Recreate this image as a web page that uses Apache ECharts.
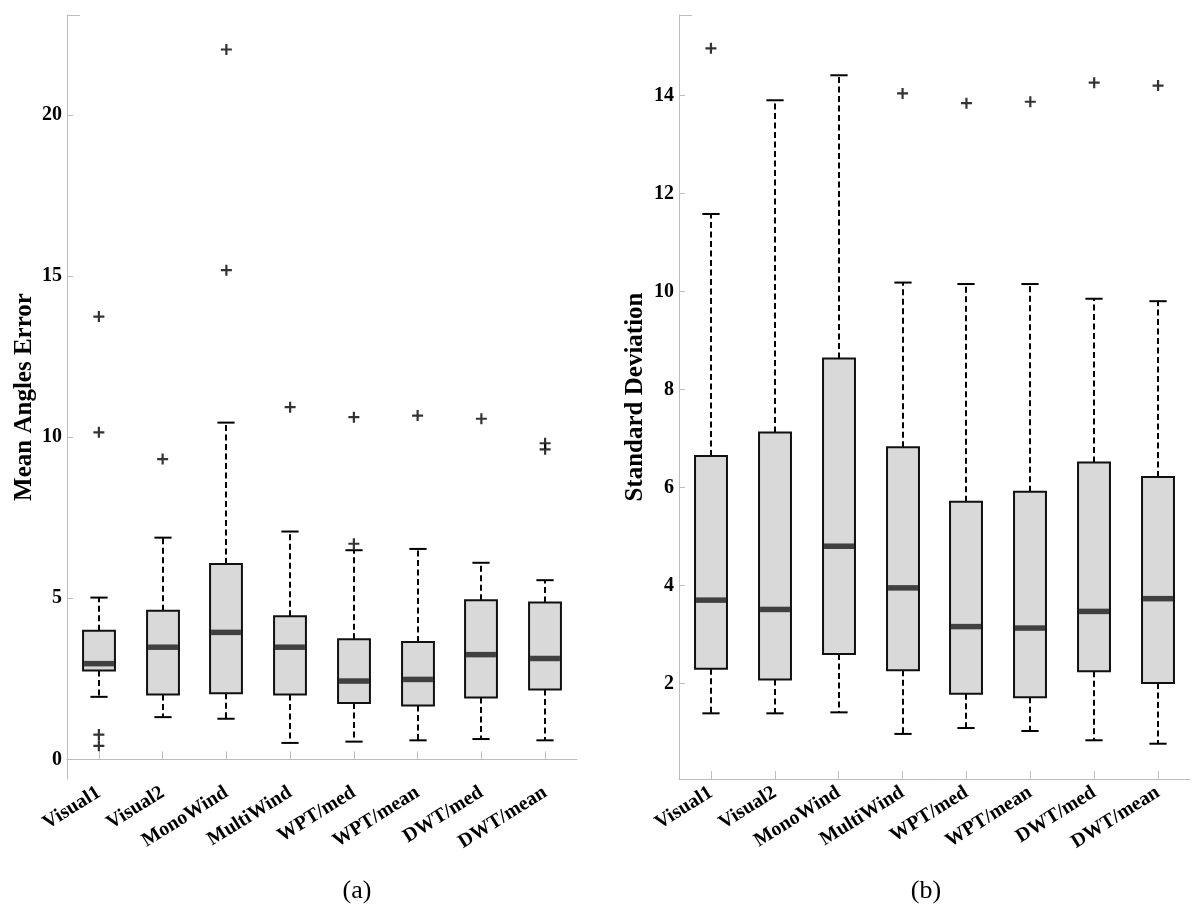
<!DOCTYPE html>
<html>
<head>
<meta charset="utf-8">
<script src="https://cdn.jsdelivr.net/npm/echarts@6/dist/echarts.min.js"></script>
<style>
html,body{margin:0;padding:0;background:#fff;}
#chart{width:1200px;height:910px;}
</style>
</head>
<body>
<div id="chart"></div>
<script>
// ---------- data ----------
const categories = ['Visual1','Visual2','MonoWind','MultiWind','WPT/med','WPT/mean','DWT/med','DWT/mean'];

// (a) Mean Angles Error
const minA = [1.94, 1.31, 1.26, 0.51, 0.55, 0.59, 0.63, 0.59];
const q1A  = [2.76, 2.01, 2.05, 2.01, 1.75, 1.67, 1.92, 2.17];
const medA = [2.97, 3.48, 3.94, 3.48, 2.43, 2.48, 3.25, 3.13];
const q3A  = [3.99, 4.61, 6.06, 4.44, 3.73, 3.64, 4.94, 4.87];
const maxA = [5.02, 6.88, 10.45, 7.07, 6.49, 6.53, 6.10, 5.56];
const outliersA = [
  ['Visual1', 13.74], ['Visual1', 10.15], ['Visual1', 0.77], ['Visual1', 0.42],
  ['Visual2', 9.32],
  ['MonoWind', 22.03], ['MonoWind', 15.18],
  ['MultiWind', 10.93],
  ['WPT/med', 10.62], ['WPT/med', 6.69],
  ['WPT/mean', 10.67],
  ['DWT/med', 10.57],
  ['DWT/mean', 9.81], ['DWT/mean', 9.62]
];
const yTicksA = [0, 5, 10, 15, 20];

// (b) Standard Deviation
const minB = [1.39, 1.39, 1.41, 0.97, 1.09, 1.03, 0.84, 0.77];
const q1B  = [2.30, 2.08, 2.60, 2.27, 1.79, 1.72, 2.25, 2.01];
const medB = [3.70, 3.51, 4.80, 3.95, 3.16, 3.13, 3.47, 3.73];
const q3B  = [6.64, 7.12, 8.63, 6.82, 5.71, 5.91, 6.51, 6.21];
const maxB = [11.58, 13.90, 14.41, 10.18, 10.15, 10.15, 9.85, 9.80];
const outliersB = [
  ['Visual1', 14.96],
  ['MultiWind', 14.04],
  ['WPT/med', 13.84],
  ['WPT/mean', 13.87],
  ['DWT/med', 14.26],
  ['DWT/mean', 14.20]
];
const yTicksB = [2, 4, 6, 8, 10, 12, 14];

// ---------- chart ----------
const FONT = "'Liberation Serif','Times New Roman',serif";
const AXIS_GRAY = '#bdbdbd';

function boxData(mn, q1, md, q3, mx) {
  return categories.map((c, i) => [i, mn[i], q1[i], md[i], q3[i], mx[i]]);
}

function renderBox(params, api) {
  const i = api.value(0);
  const pMin = api.coord([i, api.value(1)]);
  const pQ1 = api.coord([i, api.value(2)]);
  const pMed = api.coord([i, api.value(3)]);
  const pQ3 = api.coord([i, api.value(4)]);
  const pMax = api.coord([i, api.value(5)]);
  const band = api.size([1, 0])[0];
  const bw = band * 0.5;
  const cw = band * 0.27;
  const x = Math.round(pMed[0]);
  const dash = {stroke: '#000', lineWidth: 2, lineDash: [6, 3.5], fill: null};
  const solid = {stroke: '#000', lineWidth: 2, fill: null};
  return {
    type: 'group',
    children: [
      {type: 'line', shape: {x1: x, y1: pQ3[1], x2: x, y2: pMax[1]}, style: dash},
      {type: 'line', shape: {x1: x, y1: pQ1[1], x2: x, y2: pMin[1]}, style: dash},
      {type: 'line', shape: {x1: x - cw / 2, y1: pMax[1], x2: x + cw / 2, y2: pMax[1]}, style: solid},
      {type: 'line', shape: {x1: x - cw / 2, y1: pMin[1], x2: x + cw / 2, y2: pMin[1]}, style: solid},
      {type: 'rect', shape: {x: x - bw / 2, y: pQ3[1], width: bw, height: pQ1[1] - pQ3[1]},
        style: {fill: '#d9d9d9', stroke: '#111', lineWidth: 2}},
      {type: 'line', shape: {x1: x - bw / 2 + 1, y1: pMed[1], x2: x + bw / 2 - 1, y2: pMed[1]},
        style: {stroke: '#404040', lineWidth: 5.5}}
    ]
  };
}

const PLUS = 'path://M4,0H6V4H10V6H6V10H4V6H0V4H4Z';

function xAxisCfg(gi) {
  return {
    type: 'category', gridIndex: gi, data: categories, boundaryGap: true,
    axisLine: {show: true, lineStyle: {color: AXIS_GRAY, width: 1}},
    axisTick: {show: true, inside: true, alignWithLabel: true, length: 8, lineStyle: {color: AXIS_GRAY}},
    axisLabel: {interval: 0, rotate: 32, margin: 12, color: '#000', fontFamily: FONT,
      fontWeight: 'bold', fontSize: 20},
    splitLine: {show: false}
  };
}

function yAxisCfg(gi, mn, mx, ticks, name, gap) {
  return {
    type: 'value', gridIndex: gi, min: mn, max: mx,
    name: name, nameLocation: 'middle', nameGap: gap, nameRotate: 90,
    nameTextStyle: {fontFamily: FONT, fontWeight: 'bold', fontSize: 25, color: '#000'},
    axisLine: {show: true, lineStyle: {color: AXIS_GRAY, width: 1}},
    axisTick: {show: true, inside: true, length: 6, customValues: ticks, lineStyle: {color: AXIS_GRAY}},
    axisLabel: {customValues: ticks, margin: 5, color: '#000', fontFamily: FONT,
      fontWeight: 'bold', fontSize: 20},
    splitLine: {show: false}
  };
}

const chart = echarts.init(document.getElementById('chart'), null, {renderer: 'canvas'});
chart.setOption({
  animation: false,
  backgroundColor: '#fff',
  grid: [
    {left: 67, top: 15, width: 510, height: 764, containLabel: false, outerBoundsMode: 'none'},
    {left: 679, top: 15, width: 511, height: 764, containLabel: false, outerBoundsMode: 'none'}
  ],
  xAxis: [xAxisCfg(0), xAxisCfg(1)],
  yAxis: [
    yAxisCfg(0, -0.61, 23.1, yTicksA, 'Mean Angles Error', 30),
    yAxisCfg(1, 0.05, 15.64, yTicksB, 'Standard Deviation', 31)
  ],
  title: [
    {text: '(a)', left: 352, top: 873, textAlign: 'center',
      textStyle: {fontFamily: FONT, fontWeight: 'normal', fontSize: 26, color: '#000'}},
    {text: '(b)', left: 921, top: 873, textAlign: 'center',
      textStyle: {fontFamily: FONT, fontWeight: 'normal', fontSize: 26, color: '#000'}}
  ],
  graphic: [
    {type: 'line', shape: {x1: 67, y1: 15.5, x2: 80, y2: 15.5}, style: {stroke: AXIS_GRAY, lineWidth: 1}},
    {type: 'line', shape: {x1: 679, y1: 15.5, x2: 692, y2: 15.5}, style: {stroke: AXIS_GRAY, lineWidth: 1}}
  ],
  series: [
    {type: 'custom', xAxisIndex: 0, yAxisIndex: 0, renderItem: renderBox,
      encode: {x: 0, y: [1, 2, 3, 4, 5]}, data: boxData(minA, q1A, medA, q3A, maxA), z: 2},
    {type: 'scatter', xAxisIndex: 0, yAxisIndex: 0, symbol: PLUS, symbolSize: 11,
      itemStyle: {color: '#000'}, data: outliersA, z: 3},
    {type: 'custom', xAxisIndex: 1, yAxisIndex: 1, renderItem: renderBox,
      encode: {x: 0, y: [1, 2, 3, 4, 5]}, data: boxData(minB, q1B, medB, q3B, maxB), z: 2},
    {type: 'scatter', xAxisIndex: 1, yAxisIndex: 1, symbol: PLUS, symbolSize: 11,
      itemStyle: {color: '#000'}, data: outliersB, z: 3}
  ]
});
</script>
</body>
</html>
